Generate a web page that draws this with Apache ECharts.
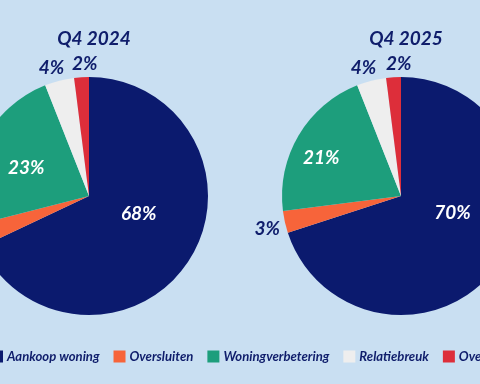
<!DOCTYPE html>
<html><head><meta charset="utf-8">
<script src="https://cdn.jsdelivr.net/npm/echarts@6/dist/echarts.min.js"></script>
<style>html,body{margin:0;padding:0;background:#c9dff2;}#c{width:480px;height:384px;}</style>
</head><body><div id="c"></div>
<script>
var categories = ['Aankoop woning', 'Oversluiten', 'Woningverbetering', 'Relatiebreuk', 'Overig'];
var titles = ['Q4 2024', 'Q4 2025'];
var values2024 = [68, 3, 23, 4, 2];
var values2025 = [70, 3, 21, 4, 2];

var colors = ['#0b1a6e', '#f7643a', '#1d9e7c', '#eeeeee', '#dd2e3a'];
var navy = '#0f1d6b';
var fontFam = 'Lato, "Open Sans", sans-serif';
var insideSet = [true, false, true, false, false];
// label nudges (style only) per series, per slice
var labelNudge = [
  [[-3, -16], [0, 0], [-7, 0], [0, -1], [9, -1]],
  [[1, -20], [-1, 4], [-26, -6], [0, -1], [11, -1]]
];

function makeData(vals) {
  return vals.map(function (v, i) {
    var inside = insideSet[i];
    return {
      name: categories[i], value: v,
      label: inside ? { position: 'inside', color: '#ffffff' } : { position: 'outside', color: navy }
    };
  });
}
function makeSeries(vals, cx, si) {
  return {
    type: 'pie', center: [cx, 196], radius: 119, startAngle: 90, clockwise: true,
    avoidLabelOverlap: false, animation: false,
    itemStyle: { borderWidth: 0 },
    emphasis: { disabled: true },
    label: { show: true, formatter: '{c}%', fontFamily: fontFam, fontStyle: 'italic', fontWeight: 'bold', fontSize: 19 },
    labelLine: { show: false, length: 12, length2: 0 },
    labelLayout: function (p) {
      var n = labelNudge[si][p.dataIndex];
      return { align: 'center', verticalAlign: 'middle', dx: n[0], dy: n[1] };
    },
    data: makeData(vals)
  };
}
var chart = echarts.init(document.getElementById('c'));
chart.setOption({
  backgroundColor: '#c9dff2',
  color: colors,
  title: [
    { text: titles[0], left: 89, top: 24, textAlign: 'center', textStyle: { color: navy, fontFamily: fontFam, fontStyle: 'italic', fontWeight: 'bold', fontSize: 19 } },
    { text: titles[1], left: 401, top: 24, textAlign: 'center', textStyle: { color: navy, fontFamily: fontFam, fontStyle: 'italic', fontWeight: 'bold', fontSize: 19 } }
  ],
  legend: {
    data: categories, left: -9, top: 350, width: 900, itemWidth: 12, itemHeight: 12, itemGap: 14,
    icon: 'rect', padding: 0,
    textStyle: { color: navy, fontFamily: fontFam, fontStyle: 'italic', fontWeight: 'bold', fontSize: 13.1, padding: [0, 0, 0, -1] },
    selectedMode: false
  },
  series: [makeSeries(values2024, 89, 0), makeSeries(values2025, 401, 1)]
});
</script></body></html>
